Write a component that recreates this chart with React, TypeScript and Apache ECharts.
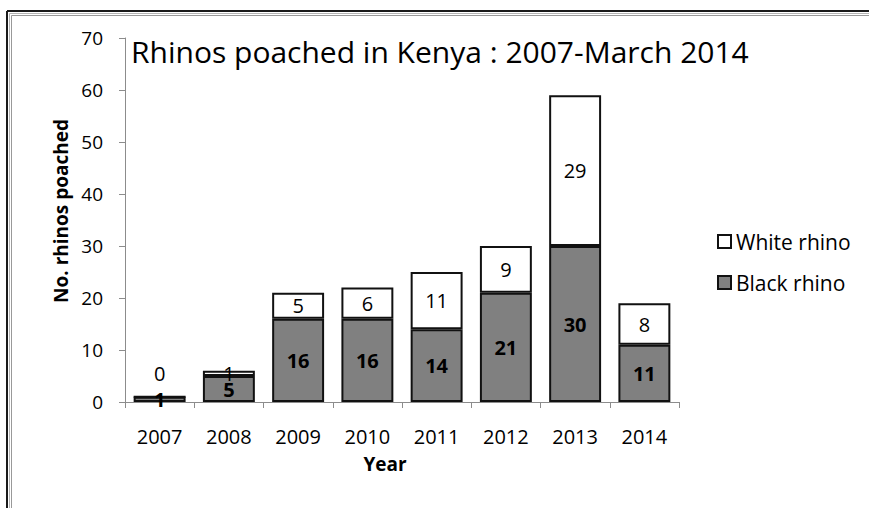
import { useEffect, useRef } from 'react';
import * as echarts from 'echarts';

const years = ['2007', '2008', '2009', '2010', '2011', '2012', '2013', '2014'];
const blackRhino = [1, 5, 16, 16, 14, 21, 30, 11];
const whiteRhino = [0, 1, 5, 6, 11, 9, 29, 8];
const yMin = 0;
const yMax = 70;
const yStep = 10;

const FONT = '"Open Sans", sans-serif';
const AXIS_GREY = '#8c8c8c';

export default function App() {
  const ref = useRef<HTMLDivElement>(null);

  useEffect(() => {
    const chart = echarts.init(ref.current!, null, { renderer: 'svg' });

    // a zero-height segment gets its label lifted above the bar
    const whiteData = whiteRhino.map((v) =>
      v === 0 ? { value: v, label: { position: 'top', distance: 12 } } : v
    );

    chart.setOption({
      animation: false,
      backgroundColor: '#ffffff',
      textStyle: { fontFamily: FONT },
      title: {
        text: 'Rhinos poached in Kenya : 2007-March 2014',
        left: 126,
        top: 31,
        textStyle: { fontFamily: FONT, fontSize: 30, fontWeight: 'normal', color: '#000' },
      },
      legend: {
        orient: 'vertical',
        left: 712,
        top: 226,
        itemWidth: 13,
        itemHeight: 13,
        itemGap: 20,
        icon: 'rect',
        data: ['White rhino', 'Black rhino'],
        textStyle: { fontFamily: FONT, fontSize: 21, color: '#000' },
      },
      grid: { left: 125, top: 38, width: 554, height: 364 },
      xAxis: {
        type: 'category',
        data: years,
        name: 'Year',
        nameLocation: 'middle',
        nameGap: 52,
        nameTextStyle: {
          fontFamily: FONT,
          fontSize: 19,
          fontWeight: 'bold',
          color: '#000',
          padding: [0, 34, 0, 0],
        },
        axisLine: { lineStyle: { color: AXIS_GREY, width: 1 } },
        axisTick: { show: true, length: 6, alignWithLabel: false, lineStyle: { color: AXIS_GREY } },
        axisLabel: { fontFamily: FONT, fontSize: 20, color: '#000', margin: 24 },
      },
      yAxis: {
        type: 'value',
        min: yMin,
        max: yMax,
        interval: yStep,
        name: 'No. rhinos poached',
        nameLocation: 'middle',
        nameGap: 54,
        nameTextStyle: {
          fontFamily: FONT,
          fontSize: 19,
          fontWeight: 'bold',
          color: '#000',
          padding: [0, 0, 0, 18],
        },
        axisLine: { show: true, lineStyle: { color: AXIS_GREY, width: 1 } },
        axisTick: { show: true, length: 6, lineStyle: { color: AXIS_GREY } },
        splitLine: { show: false },
        axisLabel: { fontFamily: FONT, fontSize: 19, color: '#000', margin: 22 },
      },
      series: [
        {
          name: 'Black rhino',
          type: 'bar',
          stack: 'total',
          barCategoryGap: '25%',
          data: blackRhino,
          itemStyle: { color: '#808080', borderColor: '#111', borderWidth: 2 },
          label: {
            show: true,
            position: 'inside',
            fontFamily: FONT,
            fontSize: 20,
            fontWeight: 'bold',
            color: '#000',
          },
        },
        {
          name: 'White rhino',
          type: 'bar',
          stack: 'total',
          barCategoryGap: '25%',
          data: whiteData,
          itemStyle: { color: '#ffffff', borderColor: '#111', borderWidth: 2 },
          label: {
            show: true,
            position: 'inside',
            fontFamily: FONT,
            fontSize: 20,
            color: '#000',
          },
        },
      ],
      graphic: [
        // outer frame: dark edge with a light inner bevel
        { type: 'line', shape: { x1: 7, y1: 11, x2: 869, y2: 11 }, style: { stroke: '#1a1a1a', lineWidth: 2 } },
        { type: 'line', shape: { x1: 7, y1: 11, x2: 7, y2: 508 }, style: { stroke: '#1a1a1a', lineWidth: 2 } },
        { type: 'line', shape: { x1: 9.5, y1: 13.5, x2: 869, y2: 13.5 }, style: { stroke: '#b4b4b4', lineWidth: 1 } },
        { type: 'line', shape: { x1: 9.5, y1: 13.5, x2: 9.5, y2: 508 }, style: { stroke: '#b4b4b4', lineWidth: 1 } },
        { type: 'line', shape: { x1: 11.5, y1: 15.5, x2: 869, y2: 15.5 }, style: { stroke: '#999999', lineWidth: 1 } },
        { type: 'line', shape: { x1: 11.5, y1: 15.5, x2: 11.5, y2: 508 }, style: { stroke: '#999999', lineWidth: 1 } },
      ],
    });

    return () => chart.dispose();
  }, []);

  return (
    <div
      ref={ref}
      style={{ position: 'fixed', left: 0, top: 0, width: 869, height: 508 }}
    />
  );
}
